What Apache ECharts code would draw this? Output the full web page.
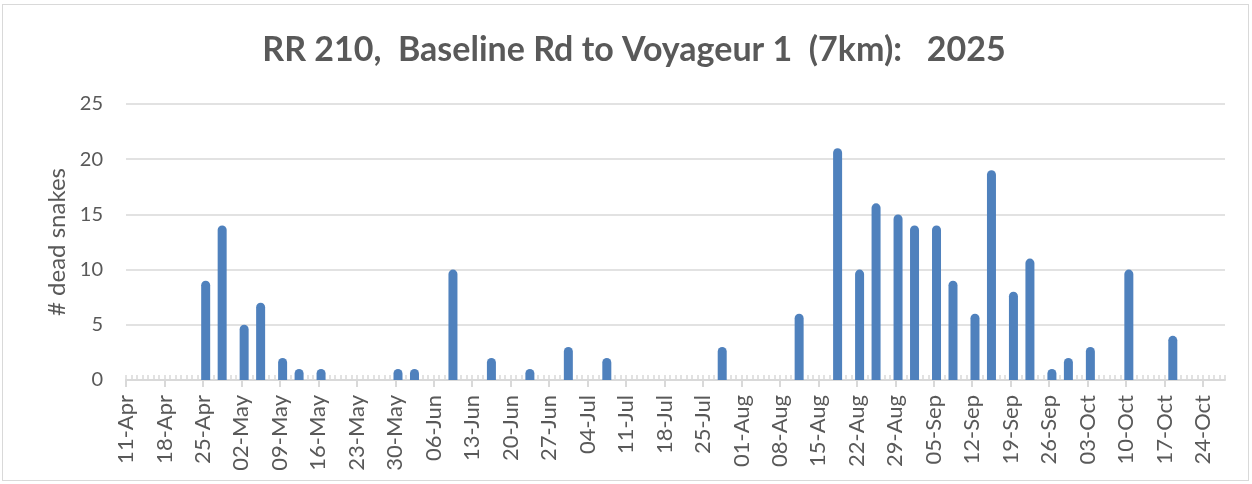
<!DOCTYPE html>
<html>
<head>
<meta charset="utf-8">
<script src="https://cdn.jsdelivr.net/npm/echarts@6/dist/echarts.min.js"></script>
<style>
  html, body { margin: 0; padding: 0; background: #fff; }
  #frame { position: absolute; left: 2px; top: 4px; width: 1247px; height: 477px; border: 1px solid #d9d9d9; box-sizing: border-box; }
  #chart { position: absolute; left: 0; top: 0; width: 1252px; height: 484px; }
</style>
</head>
<body>
<div id="frame"></div>
<div id="chart"></div>
<script>
// survey dates and counts of dead snakes
const surveyDates = [
  "2025-04-25", "2025-04-28", "2025-05-02", "2025-05-05", "2025-05-09", "2025-05-12",
  "2025-05-16", "2025-05-30", "2025-06-02", "2025-06-09", "2025-06-16", "2025-06-23",
  "2025-06-30", "2025-07-07", "2025-07-28", "2025-08-11", "2025-08-18", "2025-08-22",
  "2025-08-25", "2025-08-29", "2025-09-01", "2025-09-05", "2025-09-08", "2025-09-12",
  "2025-09-15", "2025-09-19", "2025-09-22", "2025-09-26", "2025-09-29", "2025-10-03",
  "2025-10-10", "2025-10-18"
];
const deadSnakes = [
  9, 14, 5, 7, 2, 1,
  1, 1, 1, 10, 2, 1,
  3, 2, 3, 6, 21, 10,
  16, 15, 14, 14, 9, 6,
  19, 8, 11, 1, 2, 3,
  10, 4
];
const axisStart = "2025-04-11";
const axisDays = 200;
const monthNames = ["Jan", "Feb", "Mar", "Apr", "May", "Jun", "Jul", "Aug", "Sep", "Oct", "Nov", "Dec"];

const DAY = 86400000;
const t0 = Date.parse(axisStart + "T00:00:00Z");

function dayIndex(s) {
  return Math.round((Date.parse(s + "T00:00:00Z") - t0) / DAY);
}
function dateLabel(d) {
  const dt = new Date(t0 + d * DAY);
  return String(dt.getUTCDate()).padStart(2, "0") + "-" + monthNames[dt.getUTCMonth()];
}

// bars sit in the middle of their day slot, like Excel's date axis
const barData = surveyDates.map((s, i) => [dayIndex(s) + 0.5, deadSnakes[i]]);

const weekTicks = [];
for (let d = 0; d <= 196; d += 7) weekTicks.push(d);
const dayTicks = [];
for (let d = 0; d <= axisDays; d++) dayTicks.push(d);

const chart = echarts.init(document.getElementById("chart"));
const grey = "#595959";
const font = "Lato";

chart.setOption({
  animation: false,
  title: {
    text: "RR 210,  Baseline Rd to Voyageur 1  (7km):   2025",
    left: 629,
    textAlign: "center",
    top: 28,
    textStyle: { fontFamily: font, fontWeight: "bold", fontSize: 34, color: grey }
  },
  grid: { left: 126, right: 27, top: 104, bottom: 104 },
  xAxis: [
    {
      type: "value",
      min: 0,
      max: axisDays,
      axisLine: { lineStyle: { color: "#d9d9d9", width: 2 } },
      axisTick: { customValues: weekTicks, length: 7, lineStyle: { color: "#d9d9d9", width: 2 } },
      axisLabel: {
        customValues: weekTicks,
        rotate: 90,
        margin: 15,
        fontFamily: font,
        fontSize: 22,
        color: grey,
        formatter: (v) => dateLabel(v)
      },
      splitLine: { show: false }
    },
    {
      type: "value",
      min: 0,
      max: axisDays,
      position: "bottom",
      axisLine: { show: false },
      axisTick: { customValues: dayTicks, inside: true, length: 5, lineStyle: { color: "#d9d9d9", width: 1.5 } },
      axisLabel: { show: false },
      splitLine: { show: false }
    }
  ],
  yAxis: {
    type: "value",
    min: 0,
    max: 25,
    interval: 5,
    name: "# dead snakes",
    nameLocation: "middle",
    nameGap: 56,
    nameTextStyle: { fontFamily: font, fontSize: 24, color: grey },
    axisLine: { show: false },
    axisTick: { show: false },
    axisLabel: { fontFamily: font, fontSize: 20, color: grey, margin: 23 },
    splitLine: { lineStyle: { color: "#d9d9d9", width: 1.5 } }
  },
  series: [
    {
      type: "bar",
      xAxisIndex: 0,
      data: barData,
      barWidth: 9,
      itemStyle: { color: "#4f81bd", borderRadius: [5, 5, 0, 0] }
    }
  ]
});
</script>
</body>
</html>
